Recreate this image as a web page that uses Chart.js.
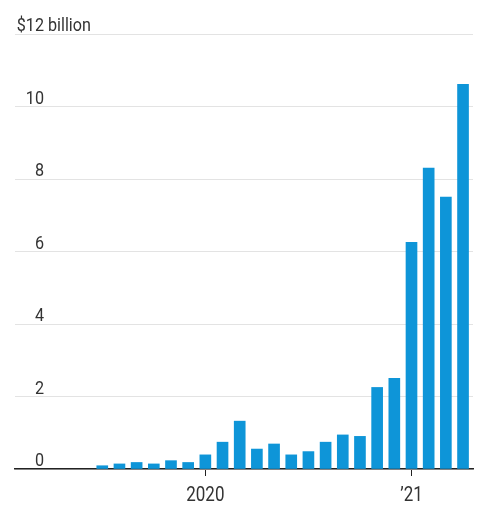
<!DOCTYPE html>
<html lang="en">
<head>
    <meta charset="UTF-8">
    <title>Monthly totals</title>
    <script src="https://cdn.jsdelivr.net/npm/chart.js"></script>
    <style>
        html, body {
            margin: 0;
            padding: 0;
            background: #fff;
        }

        #wrap {
            width: 489px;
            height: 512px;
        }
    </style>
</head>
<body>
    <div id="wrap"><canvas id="barChart"></canvas></div>

    <script>
        // months, July 2019 to April 2021
        const months = [
            'Jul 2019', 'Aug 2019', 'Sep 2019', 'Oct 2019', 'Nov 2019', 'Dec 2019',
            'Jan 2020', 'Feb 2020', 'Mar 2020', 'Apr 2020', 'May 2020', 'Jun 2020',
            'Jul 2020', 'Aug 2020', 'Sep 2020', 'Oct 2020', 'Nov 2020', 'Dec 2020',
            'Jan 2021', 'Feb 2021', 'Mar 2021', 'Apr 2021'
        ];
        // $ billion
        const values = [
            0.09, 0.14, 0.18, 0.14, 0.23, 0.18,
            0.39, 0.74, 1.32, 0.55, 0.69, 0.39,
            0.48, 0.74, 0.94, 0.90, 2.25, 2.50,
            6.25, 8.30, 7.50, 10.61
        ];

        const yTicks = [0, 2, 4, 6, 8, 10, 12];
        const xTickMonths = ['Jan 2020', 'Jan 2021'];
        const xTickLabels = ['2020', '\u201921'];

        const FONT = 'Roboto, "Liberation Sans", sans-serif';
        const TEXT = '#333';
        const SQUEEZE = 0.85; // the original face is a narrow one

        const points = values.map((v, i) => ({ x: i, y: v }));
        const xTickPos = xTickMonths.map(m => months.indexOf(m));

        function narrowText(c, txt, x, y, align) {
            const w = c.measureText(txt).width * SQUEEZE;
            let left = x;
            if (align === 'right') left = x - w;
            if (align === 'center') left = x - w / 2;
            c.save();
            c.translate(left, y);
            c.scale(SQUEEZE, 1);
            c.textAlign = 'left';
            c.fillText(txt, 0, 0);
            c.restore();
            return w;
        }

        // axis texts drawn by hand so they can be narrowed
        const axisText = {
            id: 'axisText',
            afterDraw(chart) {
                const c = chart.ctx;
                const y = chart.scales.y;
                const x = chart.scales.x;
                c.save();
                c.fillStyle = TEXT;
                c.textBaseline = 'alphabetic';

                c.font = '19px ' + FONT;
                yTicks.forEach(t => {
                    const py = y.getPixelForValue(t) - 3;
                    const lab = t === 12 ? '$12' : String(t);
                    narrowText(c, lab, 44, py, 'right');
                    if (t === 12) narrowText(c, ' billion', 44, py, 'left');
                });

                c.font = '20px ' + FONT;
                xTickPos.forEach((p, i) => {
                    narrowText(c, xTickLabels[i], x.getPixelForValue(p), 501, 'center');
                });
                c.restore();
            }
        };

        new Chart(document.getElementById('barChart'), {
            type: 'bar',
            data: {
                datasets: [{
                    label: 'Monthly total',
                    data: points,
                    backgroundColor: '#0e95d8',
                    barThickness: 11,
                    borderWidth: 0
                }]
            },
            options: {
                responsive: true,
                maintainAspectRatio: false,
                animation: false,
                layout: {
                    padding: { left: 15, right: 16, top: 34, bottom: 36 }
                },
                plugins: {
                    legend: { display: false },
                    tooltip: { enabled: false }
                },
                scales: {
                    x: {
                        type: 'linear',
                        min: -5.08,
                        max: 21.58,
                        offset: false,
                        afterBuildTicks: axis => {
                            axis.ticks = xTickPos.map(v => ({ value: v }));
                        },
                        grid: {
                            offset: false,
                            drawOnChartArea: false,
                            drawTicks: true,
                            tickLength: 7,
                            color: '#222'
                        },
                        border: { display: true, color: '#222', width: 1.5 },
                        ticks: { display: false }
                    },
                    y: {
                        min: 0,
                        max: 12,
                        afterBuildTicks: axis => {
                            axis.ticks = yTicks.map(v => ({ value: v }));
                        },
                        grid: {
                            color: '#e3e3e3',
                            drawTicks: false
                        },
                        border: { display: false },
                        ticks: { display: false }
                    }
                }
            },
            plugins: [axisText]
        });
    </script>
</body>
</html>
